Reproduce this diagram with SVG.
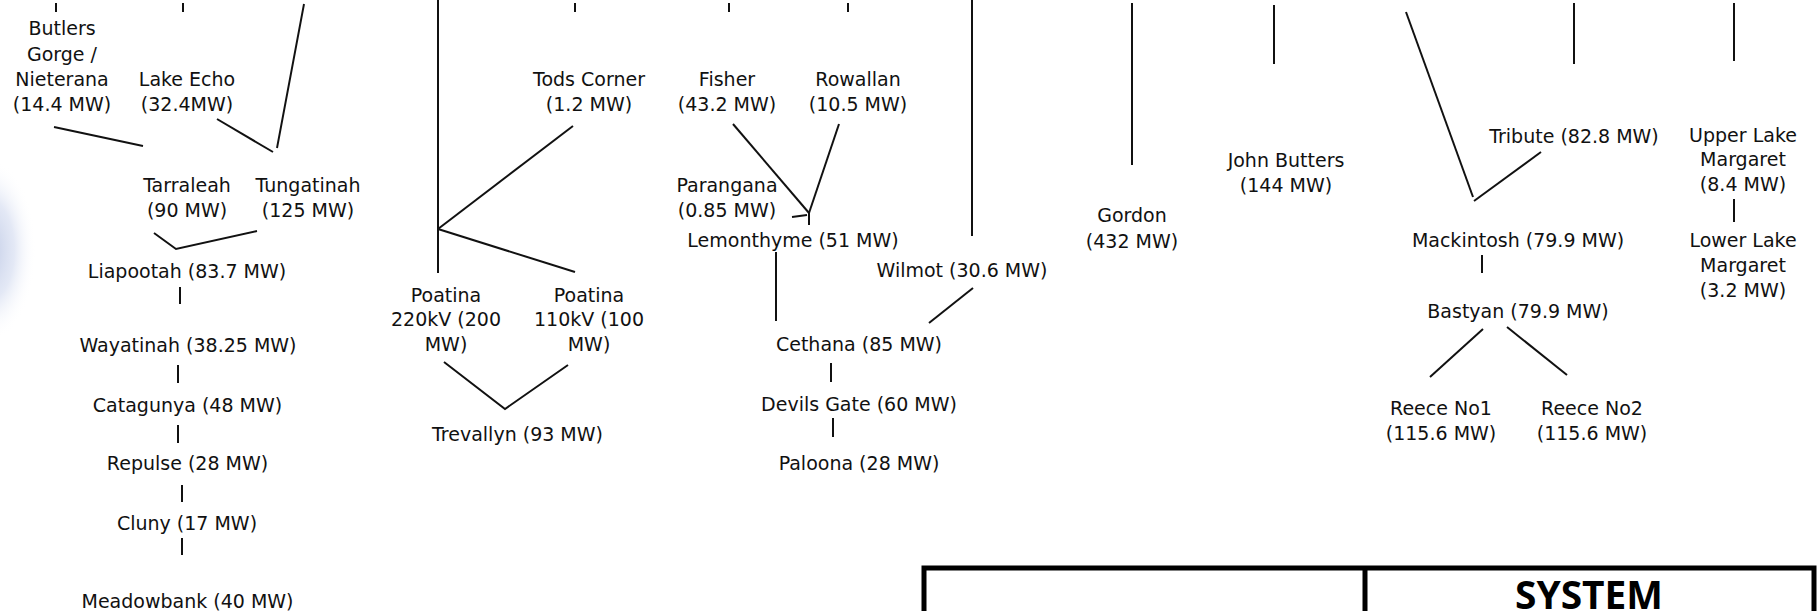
<svg xmlns="http://www.w3.org/2000/svg" width="1820" height="611" viewBox="0 0 1820 611">
<defs>
<radialGradient id="glow" cx="0.5" cy="0.5" r="0.5">
<stop offset="0" stop-color="#aab8dc" stop-opacity="0.75"/>
<stop offset="0.55" stop-color="#c8d2ec" stop-opacity="0.5"/>
<stop offset="1" stop-color="#ffffff" stop-opacity="0"/>
</radialGradient>
</defs>
<style>
text{font-family:"DejaVu Sans",Verdana,sans-serif;font-size:19px;fill:#111;text-anchor:middle}
.c line,.c polyline{stroke:#111;stroke-width:2;fill:none}
.box{fill:none;stroke:#000;stroke-width:5}
.title{font-family:"Open Sans","Liberation Sans",sans-serif;font-weight:bold;font-size:40px;fill:#000}
</style>
<rect width="1820" height="611" fill="#fff"/>
<ellipse cx="-12" cy="250" rx="48" ry="92" fill="url(#glow)"/>

<g class="c" id="connectors">
<line x1="56" y1="3" x2="56" y2="12"/>
<line x1="183" y1="3" x2="183" y2="12"/>
<line x1="575" y1="3" x2="575" y2="12"/>
<line x1="729" y1="3" x2="729" y2="12"/>
<line x1="848" y1="3" x2="848" y2="12"/>
<line x1="304" y1="4" x2="277" y2="148"/>
<line x1="54" y1="127" x2="143" y2="146"/>
<line x1="217" y1="119" x2="273" y2="152"/>
<polyline points="154,233 176,249 257,231"/>
<line x1="180" y1="287" x2="180" y2="304"/>
<line x1="178" y1="365" x2="178" y2="383"/>
<line x1="178" y1="425" x2="178" y2="443"/>
<line x1="182" y1="485" x2="182" y2="502"/>
<line x1="182" y1="538" x2="182" y2="555"/>
<line x1="438" y1="0" x2="438" y2="273"/>
<line x1="573" y1="126" x2="438" y2="229"/>
<line x1="438" y1="229" x2="575" y2="272"/>
<polyline points="444,362 505,409 568,365"/>
<line x1="733" y1="124" x2="809" y2="213"/>
<line x1="839" y1="124" x2="809" y2="213"/>
<line x1="792" y1="217" x2="807" y2="215"/>
<line x1="809" y1="213" x2="809" y2="225"/>
<line x1="776" y1="252" x2="776" y2="321"/>
<line x1="972" y1="0" x2="972" y2="236"/>
<line x1="973" y1="288" x2="929" y2="323"/>
<line x1="831" y1="363" x2="831" y2="382"/>
<line x1="833" y1="418" x2="833" y2="437"/>
<line x1="1132" y1="3" x2="1132" y2="165"/>
<line x1="1274" y1="5" x2="1274" y2="64"/>
<line x1="1406" y1="12" x2="1473" y2="197"/>
<line x1="1474" y1="201" x2="1541" y2="152"/>
<line x1="1574" y1="3" x2="1574" y2="64"/>
<line x1="1734" y1="3" x2="1734" y2="61"/>
<line x1="1734" y1="199" x2="1734" y2="222"/>
<line x1="1482" y1="255" x2="1482" y2="273"/>
<line x1="1483" y1="329" x2="1430" y2="377"/>
<line x1="1507" y1="327" x2="1567" y2="375"/>
</g>

<g id="butlers"><text x="62" y="35">Butlers</text><text x="62" y="60.5">Gorge /</text><text x="62" y="86">Nieterana</text><text x="62" y="111">(14.4 MW)</text></g>
<g id="lakeecho"><text x="187" y="86">Lake Echo</text><text x="187" y="111">(32.4MW)</text></g>
<g id="tarraleah"><text x="187" y="191.5">Tarraleah</text><text x="187" y="216.5">(90 MW)</text></g>
<g id="tungatinah"><text x="308" y="191.5">Tungatinah</text><text x="308" y="216.5">(125 MW)</text></g>
<g id="liapootah"><text x="187" y="277.5">Liapootah (83.7 MW)</text></g>
<g id="wayatinah"><text x="188" y="351.5">Wayatinah (38.25 MW)</text></g>
<g id="catagunya"><text x="187.5" y="411.5">Catagunya (48 MW)</text></g>
<g id="repulse"><text x="187.5" y="470">Repulse (28 MW)</text></g>
<g id="cluny"><text x="187" y="530">Cluny (17 MW)</text></g>
<g id="meadowbank"><text x="187.5" y="608">Meadowbank (40 MW)</text></g>

<g id="todscorner"><text x="589" y="86">Tods Corner</text><text x="589" y="111">(1.2 MW)</text></g>
<g id="poatina220"><text x="446" y="301.5">Poatina</text><text x="446" y="325.5">220kV (200</text><text x="446" y="350.5">MW)</text></g>
<g id="poatina110"><text x="589" y="301.5">Poatina</text><text x="589" y="325.5">110kV (100</text><text x="589" y="350.5">MW)</text></g>
<g id="trevallyn"><text x="517.5" y="441">Trevallyn (93 MW)</text></g>

<g id="fisher"><text x="727" y="86">Fisher</text><text x="727" y="111">(43.2 MW)</text></g>
<g id="rowallan"><text x="858" y="86">Rowallan</text><text x="858" y="111">(10.5 MW)</text></g>
<g id="parangana"><text x="727" y="192">Parangana</text><text x="727" y="217">(0.85 MW)</text></g>
<g id="lemonthyme"><text x="793" y="247">Lemonthyme (51 MW)</text></g>
<g id="wilmot"><text x="962" y="277">Wilmot (30.6 MW)</text></g>
<g id="cethana"><text x="859" y="351">Cethana (85 MW)</text></g>
<g id="devilsgate"><text x="859" y="411">Devils Gate (60 MW)</text></g>
<g id="paloona"><text x="859" y="470">Paloona (28 MW)</text></g>

<g id="gordon"><text x="1132" y="222">Gordon</text><text x="1132" y="248">(432 MW)</text></g>
<g id="johnbutters"><text x="1286" y="167">John Butters</text><text x="1286" y="192">(144 MW)</text></g>
<g id="tribute"><text x="1574" y="143">Tribute (82.8 MW)</text></g>
<g id="mackintosh"><text x="1518" y="247">Mackintosh (79.9 MW)</text></g>
<g id="bastyan"><text x="1518" y="318">Bastyan (79.9 MW)</text></g>
<g id="reece1"><text x="1441" y="415">Reece No1</text><text x="1441" y="440">(115.6 MW)</text></g>
<g id="reece2"><text x="1592" y="415">Reece No2</text><text x="1592" y="440">(115.6 MW)</text></g>
<g id="upperlake"><text x="1743" y="141.5">Upper Lake</text><text x="1743" y="166">Margaret</text><text x="1743" y="190.5">(8.4 MW)</text></g>
<g id="lowerlake"><text x="1743" y="246.5">Lower Lake</text><text x="1743" y="271.5">Margaret</text><text x="1743" y="296.5">(3.2 MW)</text></g>

<g id="legend">
<rect class="box" x="924" y="568" width="890" height="80"/>
<line x1="1365" y1="568" x2="1365" y2="620" stroke="#000" stroke-width="5"/>
<text class="title" x="1589" y="609" textLength="148" lengthAdjust="spacingAndGlyphs">SYSTEM</text>
</g>
</svg>
